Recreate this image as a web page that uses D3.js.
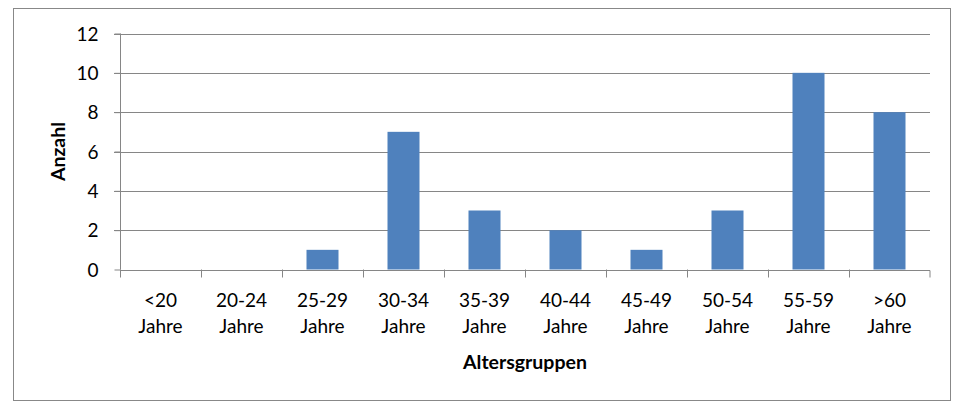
<!DOCTYPE html>
<html><head><meta charset="utf-8">
<script src="https://cdn.jsdelivr.net/npm/d3@7/dist/d3.min.js"></script>
<style>
html,body{margin:0;padding:0;background:#fff;}
svg{display:block;}
text{font-family:Lato,"Open Sans",sans-serif;fill:#000;}
</style></head>
<body>
<svg id="c" width="959" height="404"></svg>
<script>
const categories = ["<20|Jahre","20-24|Jahre","25-29|Jahre","30-34|Jahre","35-39|Jahre","40-44|Jahre","45-49|Jahre","50-54|Jahre","55-59|Jahre",">60|Jahre"];
const values = [0,0,1,7,3,2,1,3,10,8];
const yTicks = [0,2,4,6,8,10,12];
const xTitle = "Altersgruppen";
const yTitle = "Anzahl";

const svg = d3.select("#c");
const grid = "#868686";
const FS = 19;
svg.append("rect").attr("x",13.5).attr("y",8.5).attr("width",937).attr("height",392)
  .attr("fill","#fff").attr("stroke","#888").attr("stroke-width",1);

const L=120, R=930, T=33.5, B=269.5;
const xb = d3.scaleBand().domain(categories).range([L,R]);
const y = d3.scaleLinear().domain([0,12]).range([B,T]);

// gridlines
svg.append("g").selectAll("line").data(yTicks.filter(d=>d>0)).join("line")
  .attr("x1",L-6).attr("x2",R).attr("y1",d=>Math.round(y(d))+0.5).attr("y2",d=>Math.round(y(d))+0.5)
  .attr("stroke",grid).attr("stroke-width",1);

// bars
svg.append("g").selectAll("rect").data(values).join("rect")
  .attr("x",(d,i)=>xb(categories[i])+xb.bandwidth()/2-16)
  .attr("width",32)
  .attr("y",d=>y(d)).attr("height",d=>y(0)-y(d))
  .attr("fill","#4F81BD");

// y axis
const ya = svg.append("g").attr("transform",`translate(${L+0.5},0)`)
  .call(d3.axisLeft(y).tickValues(yTicks).tickSize(6).tickPadding(16));
ya.select(".domain").attr("stroke",grid).attr("d",`M0,${T}V${B}`);
ya.selectAll(".tick line").attr("stroke",grid);
ya.selectAll(".tick text").attr("font-size",FS).attr("font-family","Lato").attr("dy","0.35em");

// x axis
const xa = svg.append("g").attr("transform",`translate(0,${Math.round(B)+0.5})`)
  .call(d3.axisBottom(xb).tickSize(0).tickFormat(""));
xa.select(".domain").attr("stroke",grid).attr("d",`M${L},0H${R}V7`);
xa.selectAll(".tick").remove();
svg.append("g").selectAll("line").data(categories).join("line")
  .attr("x1",d=>Math.round(xb(d))+0.5).attr("x2",d=>Math.round(xb(d))+0.5)
  .attr("y1",B).attr("y2",B+8).attr("stroke",grid);

// category labels
const lab = svg.append("g").selectAll("text").data(categories).join("text")
  .attr("text-anchor","middle").attr("font-size",FS);
lab.each(function(d){
  const parts=d.split("|");
  const t=d3.select(this);
  parts.forEach((p,k)=>t.append("tspan").attr("x",xb(d)+xb.bandwidth()/2).attr("y",307+k*26).text(p));
});

// titles
svg.append("text").attr("x",(L+R)/2).attr("y",369).attr("text-anchor","middle")
  .attr("font-size",19.5).attr("font-weight","bold").text(xTitle);
svg.append("text").attr("transform",`translate(65,${(T+B)/2}) rotate(-90)`).attr("text-anchor","middle")
  .attr("font-size",19.5).attr("font-weight","bold").text(yTitle);
</script>
</body></html>
